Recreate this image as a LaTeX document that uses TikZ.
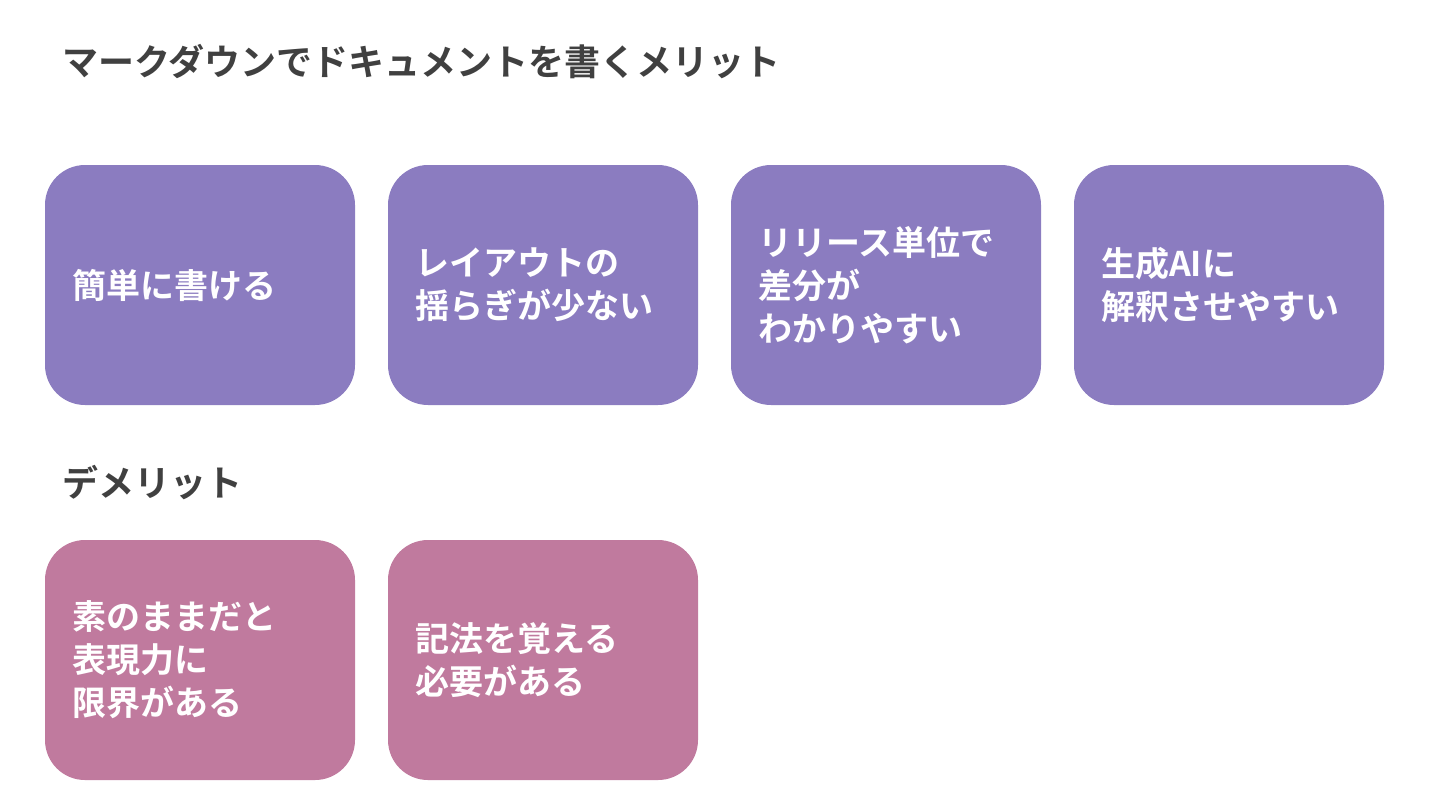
\documentclass[tikz,border=0pt]{standalone}
\usepackage{fontspec}
\setmainfont{Noto Sans CJK JP}[BoldFont=* Bold]
\usepackage{tikz}
\usetikzlibrary{positioning}
\definecolor{mdpurple}{HTML}{8B7CC0}
\definecolor{mdpink}{HTML}{C07A9E}
\definecolor{mddark}{HTML}{404040}

\begin{document}
\begin{tikzpicture}[
      card/.style={rectangle, rounded corners=20pt, draw=none, outer sep=0pt, minimum width=155pt, minimum height=120pt,
        text width=128pt, inner xsep=13.5pt, align=left, text=white,
        font=\bfseries\fontsize{17pt}{21.5pt}\selectfont, anchor=center},
      heading/.style={anchor=west, inner sep=0pt, text=mddark, font=\bfseries\fontsize{18pt}{22pt}\selectfont}
    ]
      \useasboundingbox (0,0) rectangle (720pt,-405pt);

      \node[heading] (title) at (31pt,-31pt) {マークダウンでドキュメントを書くメリット};

      % Merits
      \node[card, fill=mdpurple] (M1) at (100pt,-142.5pt) {簡単に書ける};
      \node[card, fill=mdpurple, right=16.5pt of M1] (M2) {レイアウトの\\揺らぎが少ない};
      \node[card, fill=mdpurple, right=16.5pt of M2] (M3) {リリース単位で\\差分が\\わかりやすい};
      \node[card, fill=mdpurple, right=16.5pt of M3] (M4) {生成AIに\\解釈させやすい};

      \node[heading] (demerit) at (31pt,-241.5pt) {デメリット};

      % Demerits
      \node[card, fill=mdpink] (D1) at (100pt,-330pt) {素のままだと\\表現力に\\限界がある};
      \node[card, fill=mdpink, right=16.5pt of D1] (D2) {記法を覚える\\必要がある};
    \end{tikzpicture}
\end{document}
